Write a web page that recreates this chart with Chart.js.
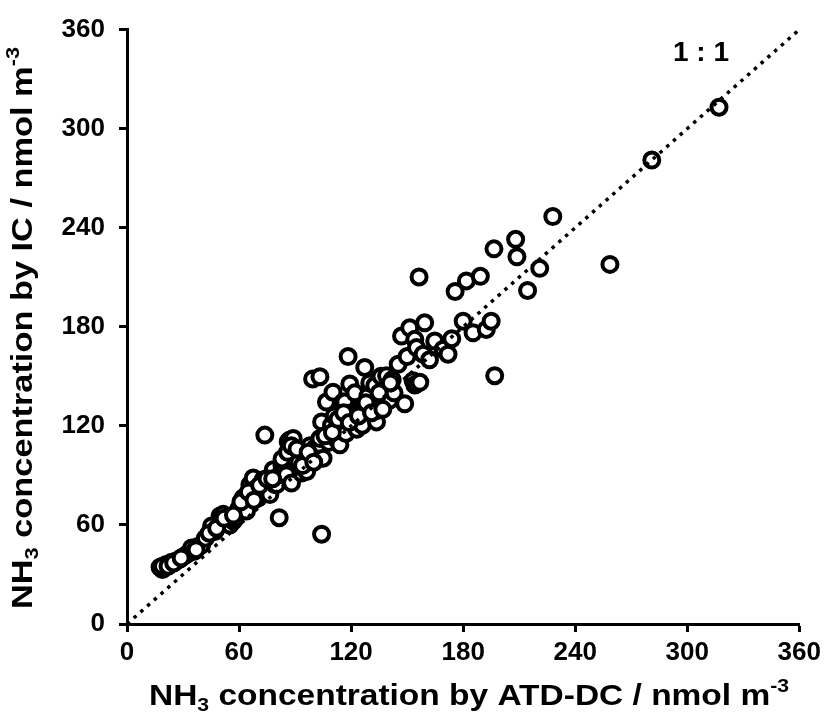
<!DOCTYPE html>
<html>
<head>
<meta charset="utf-8">
<script src="https://cdn.jsdelivr.net/npm/chart.js@4.4.1/dist/chart.umd.min.js"></script>
<style>
    html, body { margin: 0; padding: 0; background: #fff; }
    #wrap { width: 826px; height: 720px; position: relative; }
</style>
</head>
<body>
<div id="wrap"><canvas id="NH3Chart"></canvas></div>
<script>
(function() {
    "use strict";

    // NH3 by ATD-DC (x) and by IC (y), nmol m-3
    var atdDc = [
        17.7, 19, 21, 23.9, 26, 28, 31, 33, 34.6, 36, 38, 40, 42, 45.3, 47,
        49.8, 51.5, 53, 55, 56.9, 58, 60, 62.2, 63, 64, 65.8, 66, 67.6, 69,
        70.3, 72.9, 73.8, 74, 76.5, 78.3, 79.2, 80.1, 81.5, 81.9, 83, 84.5,
        85.4, 86.3, 87.2, 88.1, 89, 90.8, 92, 93.5, 95, 96.2, 98, 99.4, 100.6,
        101.5, 102, 103.3, 103.3, 104.2, 104.2, 105, 106.8, 108, 109.5, 110.3,
        111, 112, 114, 115.8, 116.6, 117.2, 118.4, 119.3, 120, 121, 122, 123,
        125.6, 126, 126.4, 127.3, 129, 130, 132.7, 133.6, 134.5, 136, 138, 139,
        140.7, 142, 143, 145.2, 147, 148.7, 150, 151.4, 153.2, 154.1, 154.1,
        155, 155, 156.4, 156.8, 158.6, 159.4, 162, 164.8, 169.3, 171.9, 173.9,
        175.7, 180, 181.7, 185.3, 189.2, 192.4, 195, 196.5, 196.9, 208.1, 208.8,
        214.5, 221, 228, 258.6, 281, 317,
        19, 22, 25, 29, 37, 44, 48, 52, 57, 61, 65, 68, 71, 75, 78, 83, 86,
        88, 91, 94, 97, 100, 106, 110, 113, 116, 119, 124, 128, 131, 135, 137, 141
    ];
    var ic = [
        34.4, 33, 36, 37.4, 38, 39, 41.4, 43, 46, 44, 47, 48, 52, 59.4, 56,
        65.4, 66.4, 62, 60, 62.4, 64, 70, 76.4, 72, 68.4, 84.4, 78, 88.4, 82,
        76.4, 87.4, 114.4, 80, 78.4, 93.4, 84.4, 84.4, 64.4, 90.4, 96, 93.4,
        90.4, 110.4, 111.4, 85.4, 112.4, 103.4, 98, 91.4, 102, 92.4, 108, 148.4, 106.4,
        106.4, 100, 149.8, 112.4, 122.4, 54.4, 100.4, 134.4, 110, 120.4, 140.4,
        126, 118, 108.5, 134.4, 134.4, 115.4, 162, 145.4, 128, 126.4, 140, 118,
        131.4, 120.4, 130.4, 155.4, 138, 146, 144.4, 122.4, 129.4, 150, 136, 150.4,
        135.6, 148, 140, 157.3, 174.4, 133.4, 162, 179.4, 147.4, 172.4, 144.8,
        167.4, 145.3, 210.2, 146.4, 163.4, 182.4, 160, 171.4, 166.4, 163.4, 172.8,
        201.4, 183.4, 207.8, 176.4, 210.6, 178.4, 183.4, 227.2, 150.4, 233, 222.4,
        202, 215.4, 246.8, 217.8, 281, 313,
        35, 35, 37, 40, 45, 55, 58, 64, 66, 74, 80, 75, 84, 88, 88, 100, 104,
        108, 106, 96, 104, 98, 114, 116, 124, 128, 122, 126, 134, 128, 140, 130, 146
    ];
    var ticksX = [0, 60, 120, 180, 240, 300, 360];
    var ticksY = [0, 60, 120, 180, 240, 300, 360];
    var oneToOne = [0, 360];

    var points = atdDc.map(function(v, i) {
        return { x: v, y: ic[i] };
    });

    var fontFamily = "'Liberation Sans', Arial, sans-serif";

    // draws a title made of normal / sub / sup parts, centered at (cx, cy),
    // squeezed or stretched to the given width
    function drawRichText(ctx, parts, cx, cy, size, angle, width) {
        ctx.save();
        ctx.translate(cx, cy);
        ctx.rotate(angle);
        ctx.fillStyle = "#000";
        ctx.textBaseline = "alphabetic";
        ctx.textAlign = "left";
        var small = Math.round(size * 0.62);
        var total = 0;
        parts.forEach(function(p) {
            ctx.font = "bold " + (p.s ? small : size) + "px " + fontFamily;
            p.w = ctx.measureText(p.t).width;
            total += p.w;
        });
        ctx.scale(width / total, 1);
        var x = -total / 2;
        var base = size * 0.36;
        parts.forEach(function(p) {
            ctx.font = "bold " + (p.s ? small : size) + "px " + fontFamily;
            var dy = 0;
            if (p.s === -1) dy = size * 0.22;
            if (p.s === 1) dy = -size * 0.42;
            ctx.fillText(p.t, x, base + dy);
            x += p.w;
        });
        ctx.restore();
    }

    var titlesPlugin = {
        id: "titles",
        afterDraw: function(chart) {
            var ctx = chart.ctx;
            drawRichText(ctx, [
                { t: "NH", s: 0 }, { t: "3", s: -1 },
                { t: " concentration by ATD-DC / nmol m", s: 0 }, { t: "-3", s: 1 }
            ], 469, 694, 30, 0, 640);
            drawRichText(ctx, [
                { t: "NH", s: 0 }, { t: "3", s: -1 },
                { t: " concentration by IC / nmol m", s: 0 }, { t: "-3", s: 1 }
            ], 21, 328, 30, -Math.PI / 2, 562);
            ctx.save();
            ctx.font = "bold 28px " + fontFamily;
            ctx.fillStyle = "#000";
            ctx.textAlign = "center";
            ctx.textBaseline = "middle";
            ctx.fillText("1 : 1", 701, 53);
            ctx.restore();
        }
    };

    var axisCommon = {
        type: "linear",
        min: 0,
        max: 360,
        border: { display: true, color: "#000", width: 3 },
        grid: {
            drawOnChartArea: false,
            drawTicks: true,
            tickLength: 8,
            tickWidth: 3,
            tickColor: "#000"
        }
    };

    new Chart(document.getElementById("NH3Chart"), {
        type: "scatter",
        data: {
            datasets: [
                {
                    type: "line",
                    data: oneToOne.map(function(v) { return { x: v, y: v }; }),
                    borderColor: "#000",
                    borderWidth: 3.5,
                    borderDash: [3.5, 5.5],
                    pointRadius: 0,
                    fill: false
                },
                {
                    data: points,
                    pointRadius: 7.5,
                    pointBorderWidth: 4,
                    pointBackgroundColor: "#fff",
                    pointBorderColor: "#000",
                    pointHoverRadius: 7.5
                }
            ]
        },
        options: {
            responsive: true,
            maintainAspectRatio: false,
            animation: false,
            layout: { padding: { left: 0, right: 26, top: 24, bottom: 0 } },
            plugins: {
                legend: { display: false },
                tooltip: { enabled: false }
            },
            scales: {
                x: Object.assign({}, axisCommon, {
                    afterFit: function(scale) { scale.height = 96; },
                    afterBuildTicks: function(scale) {
                        scale.ticks = ticksX.map(function(v) { return { value: v }; });
                    },
                    ticks: {
                        color: "#000",
                        padding: 5,
                        maxRotation: 0,
                        font: { family: fontFamily, size: 26, weight: "bold" }
                    }
                }),
                y: Object.assign({}, axisCommon, {
                    afterFit: function(scale) { scale.width = 127; },
                    afterBuildTicks: function(scale) {
                        scale.ticks = ticksY.map(function(v) { return { value: v }; });
                    },
                    ticks: {
                        color: "#000",
                        padding: 14,
                        font: { family: fontFamily, size: 26, weight: "bold" }
                    }
                })
            }
        },
        plugins: [titlesPlugin]
    });
})();
</script>
</body>
</html>
